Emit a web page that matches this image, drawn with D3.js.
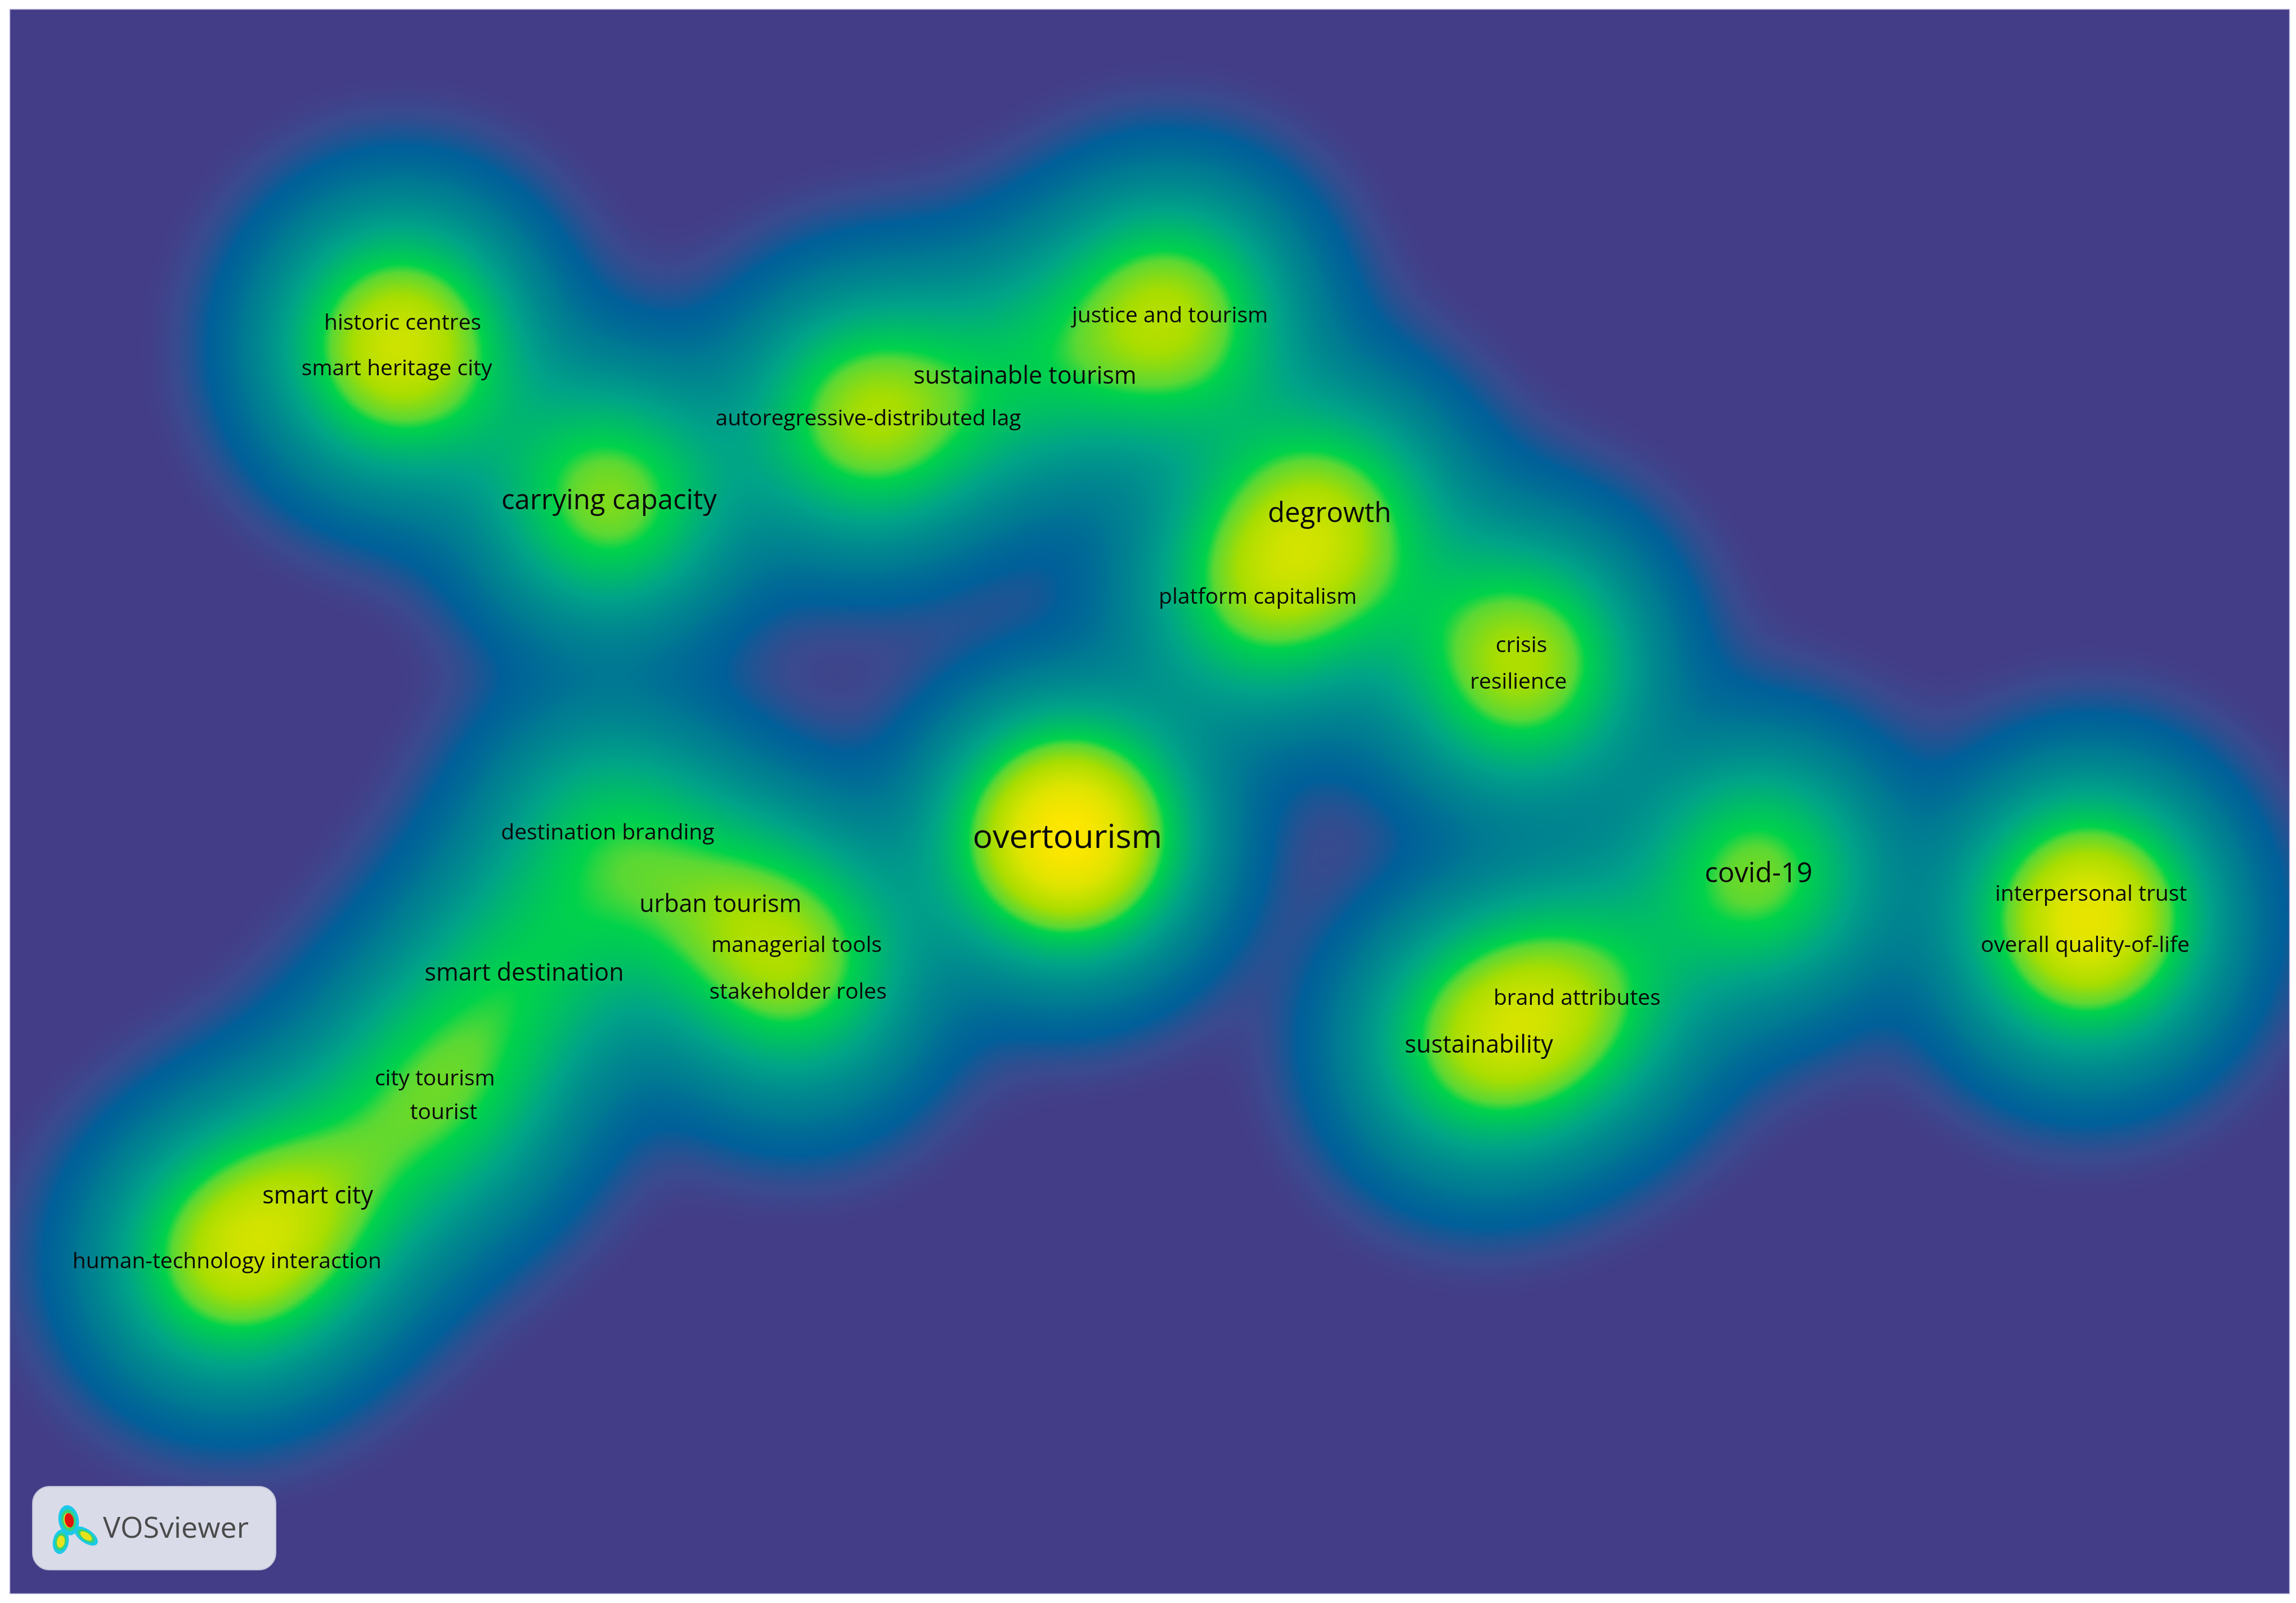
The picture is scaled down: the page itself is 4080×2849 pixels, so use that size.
<!DOCTYPE html>
<html>
<head>
<meta charset="utf-8">
<script src="https://cdn.jsdelivr.net/npm/d3@7"></script>
<style>
  html, body { margin: 0; padding: 0; background: #fff; }
  #wrap { position: relative; width: 4080px; height: 2849px; }
  #wrap canvas, #wrap svg { position: absolute; left: 0; top: 0; }
</style>
</head>
<body>
<div id="wrap"><canvas id="density"></canvas><svg id="chart"></svg></div>
<script>
// keyword map (VOSviewer density view), map coordinates
const keywords = [
  'historic centres', 'smart heritage city', 'carrying capacity',
  'autoregressive-distributed lag', 'sustainable tourism', 'justice and tourism',
  'degrowth', 'platform capitalism', 'crisis', 'resilience', 'overtourism',
  'destination branding', 'urban tourism', 'managerial tools', 'stakeholder roles',
  'smart destination', 'city tourism', 'tourist', 'smart city',
  'human-technology interaction', 'covid-19', 'interpersonal trust',
  'overall quality-of-life', 'brand attributes', 'sustainability'
]
const mapX = [275, 271, 416, 593, 700, 799, 908, 859, 1039, 1037, 729,
  415, 492, 544, 545, 358, 297, 303, 217, 155, 1201, 1428, 1424, 1077, 1010]
const mapY = [220, 251, 341, 285, 256, 215, 350, 407, 440, 465, 571,
  568, 617, 645, 677, 664, 736, 759, 816, 861, 596, 610, 645, 681, 713]
// occurrences -> label size
const occurrences = [2, 2, 4, 2, 3, 2, 4, 2, 2, 2, 7,
  2, 3, 2, 2, 3, 2, 2, 3, 2, 4, 2, 2, 2, 3]
// item weight in the density estimate
const density = [0.4, 0.4, 0.58, 0.62, 0.28, 0.64, 0.52, 0.47, 0.34, 0.34, 1.0,
  0.36, 0.27, 0.27, 0.27, 0.33, 0.25, 0.2, 0.38, 0.6, 0.55, 0.46, 0.46, 0.45, 0.55]

const W = 4080, H = 2849
const plot = {left: 18, top: 17, right: 4068, bottom: 2832}
const kernel = 55   // kernel width, map units

const x = d3.scaleLinear().domain([0, 1568]).range([0, W])
const y = d3.scaleLinear().domain([0, 1095]).range([0, H])

const color = d3.scaleLinear()
  .domain([0, 0.004, 0.015, 0.045, 0.12, 0.28, 0.48, 0.53, 0.65, 0.82, 1])
  .range(['#433d87', '#433d87', '#3a4a8e', '#005f99', '#007b92', '#00a388',
          '#00d24b', '#5ad834', '#a8dd00', '#dde400', '#ffe600'])
  .interpolate(d3.interpolateRgb)
  .clamp(true)

// density grid
const step = 2
const gw = Math.ceil((plot.right - plot.left) / step)
const gh = Math.ceil((plot.bottom - plot.top) / step)
const sig = x(kernel) - x(0)
const items = keywords.map((k, i) => ({px: x(mapX[i]), py: y(mapY[i]), w: density[i]}))

const ex = items.map(d => {
  const a = new Float32Array(gw)
  for (let c = 0; c < gw; c++) {
    const dx = plot.left + c * step - d.px
    a[c] = Math.exp(-dx * dx / (2 * sig * sig))
  }
  return a
})
const ey = items.map(d => {
  const a = new Float32Array(gh)
  for (let r = 0; r < gh; r++) {
    const dy = plot.top + r * step - d.py
    a[r] = d.w * Math.exp(-dy * dy / (2 * sig * sig))
  }
  return a
})

const grid = new Float32Array(gw * gh)
let max = 0
for (let r = 0; r < gh; r++) {
  for (let c = 0; c < gw; c++) {
    let v = 0
    for (let i = 0; i < items.length; i++) v += ex[i][c] * ey[i][r]
    grid[r * gw + c] = v
    if (v > max) max = v
  }
}

// colour lookup table
const lut = d3.range(4096).map(i => d3.rgb(color(i / 4095)))

const off = document.createElement('canvas')
off.width = gw
off.height = gh
const octx = off.getContext('2d')
const img = octx.createImageData(gw, gh)
for (let p = 0; p < grid.length; p++) {
  const c = lut[Math.round(grid[p] / max * 4095)]
  img.data[p * 4] = c.r
  img.data[p * 4 + 1] = c.g
  img.data[p * 4 + 2] = c.b
  img.data[p * 4 + 3] = 255
}
octx.putImageData(img, 0, 0)

const canvas = document.getElementById('density')
canvas.width = W
canvas.height = H
const ctx = canvas.getContext('2d')
ctx.fillStyle = '#fff'
ctx.fillRect(0, 0, W, H)
ctx.imageSmoothingEnabled = true
ctx.imageSmoothingQuality = 'high'
ctx.drawImage(off, plot.left, plot.top, gw * step, gh * step)
ctx.fillRect(plot.right, 0, W - plot.right, H)
ctx.fillRect(0, plot.bottom, W, H - plot.bottom)

const svg = d3.select('#chart').attr('width', W).attr('height', H)

svg.append('rect')
  .attr('x', plot.left - 0.5).attr('y', plot.top - 0.5)
  .attr('width', plot.right - plot.left + 1).attr('height', plot.bottom - plot.top + 1)
  .attr('fill', 'none').attr('stroke', '#b9b5dc').attr('stroke-width', 1.5)

const fontSize = d3.scaleLinear().domain([2, 3, 4, 7]).range([39, 43, 49, 59])

svg.append('g')
  .attr('font-family', '"Open Sans", "Noto Sans", sans-serif')
  .attr('fill', '#0a0a0a')
  .attr('text-anchor', 'middle')
  .selectAll('text')
  .data(keywords)
  .join('text')
    .attr('x', (d, i) => x(mapX[i]))
    .attr('y', (d, i) => y(mapY[i]) + 0.36 * fontSize(occurrences[i]))
    .attr('font-size', (d, i) => fontSize(occurrences[i]))
    .text(d => d)

// VOSviewer badge
const logo = svg.append('g')
logo.append('rect')
  .attr('x', 58).attr('y', 2642).attr('width', 432).attr('height', 148)
  .attr('rx', 30)
  .attr('fill', '#d9dbe9').attr('stroke', '#c4c6d8').attr('stroke-width', 2)

const blobs = [
  {cx: 122, cy: 2702, rx: 18, ry: 27, rot: -10},
  {cx: 108, cy: 2740, rx: 14, ry: 22, rot: 10},
  {cx: 153, cy: 2730, rx: 24, ry: 12, rot: 35}
]
const rings = [
  {fill: '#1cc9e8', k: 1},
  {fill: '#34d27a', k: 0.72},
  {fill: '#e8e21c', k: 0.5}
]
rings.forEach(r => {
  logo.append('g').selectAll('ellipse')
    .data(blobs)
    .join('ellipse')
      .attr('transform', d => `translate(${d.cx},${d.cy}) rotate(${d.rot})`)
      .attr('rx', d => d.rx * r.k).attr('ry', d => d.ry * r.k)
      .attr('fill', r.fill)
})
logo.append('ellipse')
  .attr('transform', 'translate(123,2702) rotate(-10)')
  .attr('rx', 8).attr('ry', 13).attr('fill', '#e0150c')

logo.append('text')
  .attr('x', 183).attr('y', 2733)
  .attr('font-family', '"Open Sans", "Noto Sans", sans-serif')
  .attr('font-size', 52)
  .attr('fill', '#4a4a4a')
  .text('VOSviewer')
</script>
</body>
</html>
